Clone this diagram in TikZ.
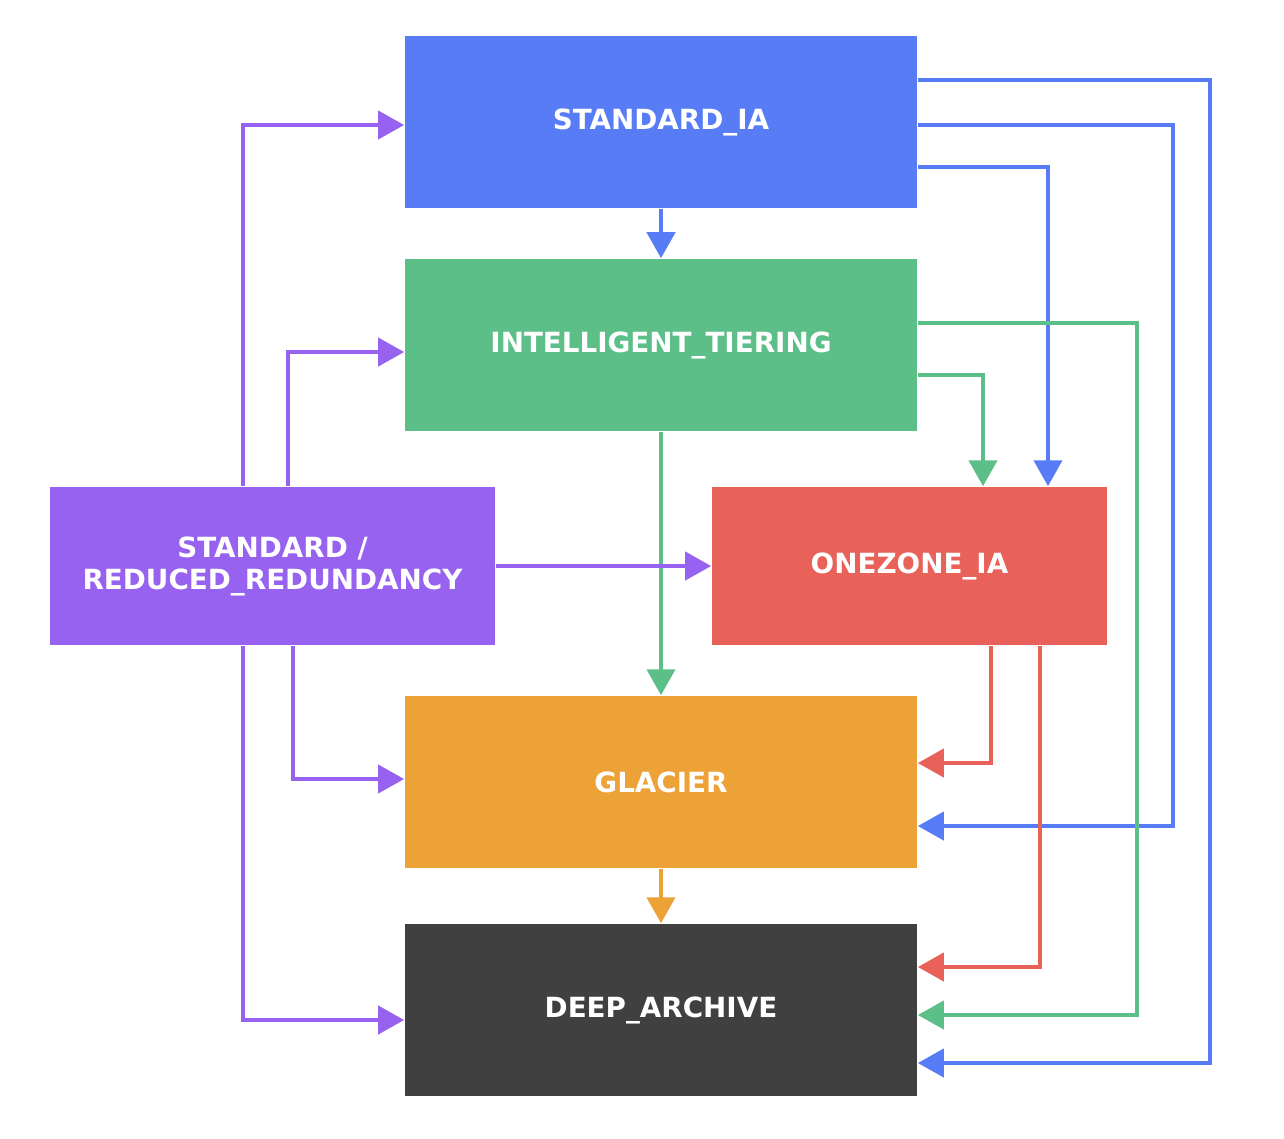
\documentclass[tikz,border=0pt]{standalone}
\usepackage{fontspec}
\setmainfont{DejaVu Sans}
\usetikzlibrary{arrows.meta}
\definecolor{iablue}{HTML}{587CF5}
\definecolor{itgreen}{HTML}{5CBF87}
\definecolor{stdpurple}{HTML}{9762F0}
\definecolor{ozred}{HTML}{E8625A}
\definecolor{glorange}{HTML}{EDA238}
\definecolor{dagrey}{HTML}{404040}
\tikzset{
	tier/.style={rectangle, minimum width=5.12cm, minimum height=1.72cm, text=white,
		font=\fontsize{7.9}{9.1}\selectfont\bfseries, align=center, inner sep=0pt},
	move/.style={line width=1.2pt, -{Triangle[width=0.28cm,length=0.26cm]}},
}
\begin{document}
\begin{tikzpicture}[x=0.01cm, y=-0.01cm]
	\useasboundingbox (0,0) rectangle (1284,1138);
	\node[tier, fill=iablue] (sia) at (661,122) {STANDARD\_IA};
	\node[tier, fill=itgreen] (it) at (661,345) {INTELLIGENT\_TIERING};
	\node[tier, fill=stdpurple, minimum width=4.45cm, minimum height=1.58cm] (std) at (272.5,566) {STANDARD /\\REDUCED\_REDUNDANCY};
	\node[tier, fill=ozred, minimum width=3.95cm, minimum height=1.58cm] (oz) at (909.5,566) {ONEZONE\_IA};
	\node[tier, fill=glorange] (gl) at (661,782) {GLACIER};
	\node[tier, fill=dagrey] (da) at (661,1010) {DEEP\_ARCHIVE};

	% straight down the middle
	\draw[move, iablue] (sia) -- (it);
	\draw[move, itgreen] (it) -- (gl);
	\draw[move, glorange] (gl) -- (da);

	% from STANDARD_IA
	\draw[move, iablue] (sia.east |- 0,80) -| (1210,1063) -- (da.east |- 0,1063);
	\draw[move, iablue] (sia.east |- 0,125) -| (1173,826) -- (gl.east |- 0,826);
	\draw[move, iablue] (sia.east |- 0,167) -| (oz.north -| 1048,0);

	% from INTELLIGENT_TIERING
	\draw[move, itgreen] (it.east |- 0,323) -| (1137,1015) -- (da.east |- 0,1015);
	\draw[move, itgreen] (it.east |- 0,375) -| (oz.north -| 983,0);

	% from ONEZONE_IA
	\draw[move, ozred] (oz.south -| 991,0) |- (gl.east |- 0,763);
	\draw[move, ozred] (oz.south -| 1040,0) |- (da.east |- 0,967);

	% from STANDARD / REDUCED_REDUNDANCY
	\draw[move, stdpurple] (std.north -| 243,0) |- (sia.west |- 0,125);
	\draw[move, stdpurple] (std.north -| 288,0) |- (it.west |- 0,352);
	\draw[move, stdpurple] (std) -- (oz);
	\draw[move, stdpurple] (std.south -| 293,0) |- (gl.west |- 0,779);
	\draw[move, stdpurple] (std.south -| 243,0) |- (da.west |- 0,1020);
\end{tikzpicture}
\end{document}
